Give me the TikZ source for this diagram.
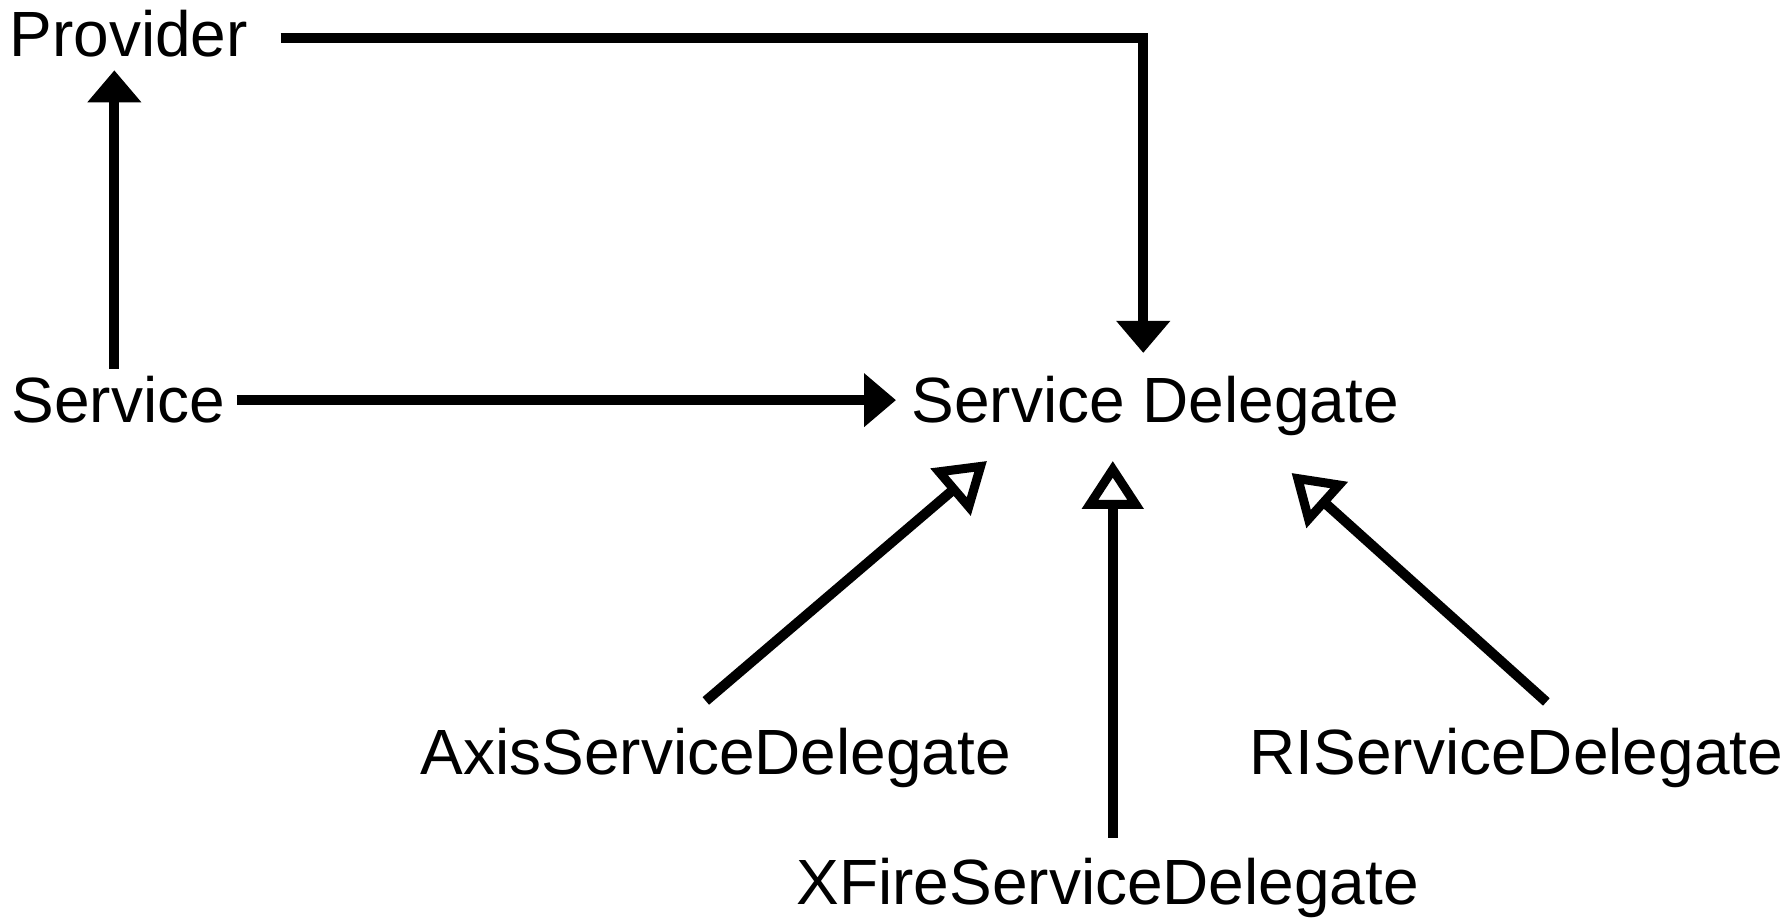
\documentclass[tikz,border=0pt]{standalone}
\usepackage{fontspec}
\usepackage{tikz}
\usetikzlibrary{arrows.meta,calc}
\setmainfont{Liberation Sans}
\definecolor{umlink}{HTML}{000000}

\tikzset{
  classname/.style={inner sep=0pt, anchor=base west, font=\fontsize{18.2pt}{21pt}\selectfont},
  uses/.style={umlink, line width=0.1cm, -{Triangle[length=0.32cm, width=0.52cm]}},
  extends/.style={umlink, line width=0.1cm, -{Triangle[open, length=0.48cm, width=0.6cm, line width=0.09cm]}}
}

\begin{document}
\begin{tikzpicture}
    \useasboundingbox (0,0) rectangle (17.92,9.21);

    \node[classname] (provider) at (0.09,8.64) {Provider};
    \node[classname] (service)  at (0.11,4.98) {Service};
    \node[classname] (sd)       at (9.11,4.98) {Service Delegate};
    \node[classname] (axis)     at (4.20,1.46) {AxisServiceDelegate};
    \node[classname] (ri)       at (12.49,1.46) {RIServiceDelegate};
    \node[classname] (xfire)    at (7.96,0.16) {XFireServiceDelegate};

    \draw[uses] ([xshift=-0.04cm, yshift=0.07cm]service.north)
      -- ([xshift=-0.04cm, yshift=-0.12cm]service.north |- provider.south);
    \draw[uses] ([xshift=0.11cm]service.east)
      -- ([xshift=-0.15cm]service.east -| sd.west);
    \draw[uses] ([xshift=0.32cm, yshift=-0.04cm]provider.east)
      -| ([xshift=-0.12cm, yshift=0.23cm]sd.north);

    % subclasses
    \draw[extends] ([xshift=-0.1cm, yshift=0.27cm]axis.north)
      -- ([xshift=0.76cm, yshift=-0.24cm]sd.south west);
    \draw[extends] ([xshift=0.05cm, yshift=0.2cm]xfire.north)
      -- ([xshift=0.05cm, yshift=-0.24cm]xfire.north |- sd.south);
    \draw[extends] ([xshift=0.3cm, yshift=0.26cm]ri.north)
      -- ([xshift=-1.08cm, yshift=-0.36cm]sd.south east);
\end{tikzpicture}
\end{document}
